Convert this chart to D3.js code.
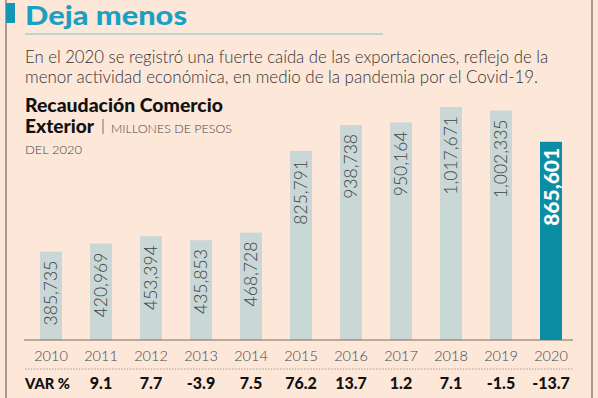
<!DOCTYPE html>
<html>
<head>
<meta charset="utf-8">
<script src="https://cdn.jsdelivr.net/npm/d3@7"></script>
<style>
  body { margin: 0; background: #fde7d9; }
  svg { display: block; }
</style>
</head>
<body>
<svg id="chart" width="598" height="398"></svg>
<script>
var w = 598;
var h = 398;

// data
var years = ["2010", "2011", "2012", "2013", "2014", "2015", "2016", "2017", "2018", "2019", "2020"];
var values = [385735, 420969, 453394, 435853, 468728, 825791, 938738, 950164, 1017671, 1002335, 865601];
var variation = ["", "9.1", "7.7", "-3.9", "7.5", "76.2", "13.7", "1.2", "7.1", "-1.5", "-13.7"];

var font = "'Lato', 'Open Sans', sans-serif";
var svg = d3.select("#chart");
var last = years.length - 1;

// frame lines
svg.append("line").attr("x1", 6).attr("x2", 6).attr("y1", 0).attr("y2", h)
  .attr("stroke", "#7d6656").attr("stroke-width", 1.2);
svg.append("line").attr("x1", 592).attr("x2", 592).attr("y1", 0).attr("y2", h)
  .attr("stroke", "#7d6656").attr("stroke-width", 1.2);
svg.append("rect").attr("x", 6).attr("y", 3).attr("width", 9).attr("height", 20)
  .attr("fill", "#1596b4");

// heading
svg.append("text").attr("x", 25).attr("y", 25)
  .attr("font-family", font).attr("font-weight", 900).attr("font-size", 26)
  .attr("textLength", 162).attr("lengthAdjust", "spacingAndGlyphs")
  .attr("fill", "#1aa0c4").text("Deja menos");
svg.append("line").attr("x1", 25).attr("x2", 383).attr("y1", 34).attr("y2", 34)
  .attr("stroke", "#72c9c9").attr("stroke-width", 1);

svg.append("text").attr("x", 25).attr("y", 63)
  .attr("font-family", font).attr("font-weight", 300).attr("font-size", 17)
  .attr("textLength", 523).attr("lengthAdjust", "spacingAndGlyphs")
  .attr("fill", "#333")
  .text("En el 2020 se registró una fuerte caída de las exportaciones, reflejo de la");
svg.append("text").attr("x", 25).attr("y", 83)
  .attr("font-family", font).attr("font-weight", 300).attr("font-size", 17)
  .attr("textLength", 513).attr("lengthAdjust", "spacingAndGlyphs")
  .attr("fill", "#333")
  .text("menor actividad económica, en medio de la pandemia por el Covid-19.");

svg.append("text").attr("x", 25).attr("y", 112)
  .attr("font-family", font).attr("font-weight", 900).attr("font-size", 18)
  .attr("textLength", 198).attr("lengthAdjust", "spacingAndGlyphs")
  .attr("fill", "#111").text("Recaudación Comercio");
svg.append("text").attr("x", 25).attr("y", 133)
  .attr("font-family", font).attr("font-weight", 900).attr("font-size", 18)
  .attr("textLength", 69).attr("lengthAdjust", "spacingAndGlyphs")
  .attr("fill", "#111").text("Exterior");
svg.append("line").attr("x1", 103).attr("x2", 103).attr("y1", 119).attr("y2", 134)
  .attr("stroke", "#555").attr("stroke-width", 0.8);
svg.append("text").attr("x", 111).attr("y", 133)
  .attr("font-family", font).attr("font-weight", 300).attr("font-size", 12.5)
  .attr("textLength", 121).attr("lengthAdjust", "spacingAndGlyphs")
  .attr("fill", "#444").text("MILLONES DE PESOS");
svg.append("text").attr("x", 25).attr("y", 154)
  .attr("font-family", font).attr("font-weight", 300).attr("font-size", 12.5)
  .attr("textLength", 57).attr("lengthAdjust", "spacingAndGlyphs")
  .attr("fill", "#444").text("DEL 2020");

// scales
var x = d3.scaleBand().domain(years).range([26, 576]).paddingInner(0.56).paddingOuter(0.28);
var y = d3.scaleLinear().domain([0, 1017671]).range([340, 107]);

svg.selectAll("rect.bar")
  .data(values)
  .enter()
  .append("rect")
  .attr("class", "bar")
  .attr("x", function(d, i) { return x(years[i]); })
  .attr("y", function(d) { return y(d); })
  .attr("width", x.bandwidth())
  .attr("height", function(d) { return y(0) - y(d); })
  .attr("fill", function(d, i) { return i == last ? "#0b8ea3" : "#c9d7d6"; });

// value labels, rotated
svg.selectAll("text.val")
  .data(values)
  .enter()
  .append("text")
  .attr("class", "val")
  .attr("transform", function(d, i) {
    var cx = x(years[i]) + x.bandwidth() / 2;
    return "translate(" + (cx + (i == last ? 7.5 : 6)) + "," + (y(d) + (i == last ? 6 : 9)) + ") rotate(-90)";
  })
  .attr("text-anchor", "end")
  .attr("font-family", font)
  .attr("font-weight", function(d, i) { return i == last ? 900 : 300; })
  .attr("font-size", function(d, i) { return i == last ? 21 : 17.5; })
  .attr("fill", function(d, i) { return i == last ? "#fff" : "#444"; })
  .text(function(d) { return d3.format(",")(d); });

// axis
svg.append("line").attr("x1", 24).attr("x2", 573).attr("y1", 340).attr("y2", 340)
  .attr("stroke", "#7a6a5a").attr("stroke-width", 1);

svg.selectAll("text.year")
  .data(years)
  .enter()
  .append("text")
  .attr("class", "year")
  .attr("x", function(d) { return x(d) + x.bandwidth() / 2; })
  .attr("y", 361)
  .attr("text-anchor", "middle")
  .attr("font-family", font).attr("font-weight", 300).attr("font-size", 14.5)
  .attr("fill", "#444")
  .text(function(d) { return d; });

svg.append("line").attr("x1", 25).attr("x2", 573).attr("y1", 369).attr("y2", 369)
  .attr("stroke", "#a89a90").attr("stroke-width", 1).attr("stroke-dasharray", "1.5,1.5");

svg.append("text").attr("x", 25).attr("y", 389)
  .attr("font-family", font).attr("font-weight", 900).attr("font-size", 15)
  .attr("textLength", 45).attr("lengthAdjust", "spacingAndGlyphs")
  .attr("fill", "#111").text("VAR %");

svg.selectAll("text.var")
  .data(variation)
  .enter()
  .append("text")
  .attr("class", "var")
  .attr("x", function(d, i) { return x(years[i]) + x.bandwidth() / 2; })
  .attr("y", 389)
  .attr("text-anchor", "middle")
  .attr("font-family", font).attr("font-weight", 900).attr("font-size", 16)
  .attr("fill", "#111")
  .text(function(d) { return d; });
</script>
</body>
</html>
